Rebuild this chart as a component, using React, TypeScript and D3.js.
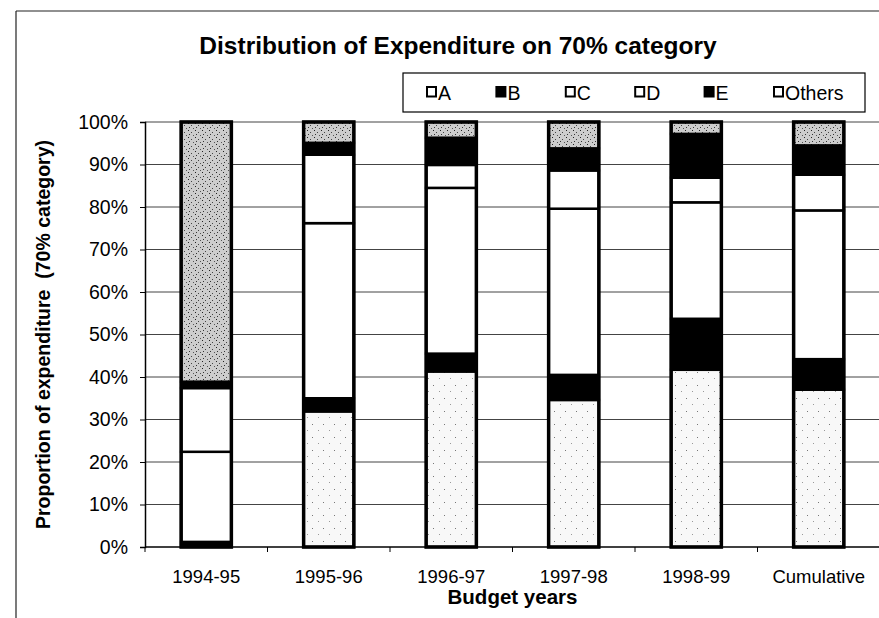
import React, { useEffect, useRef } from 'react'
import * as d3 from 'd3'

// values in % of the 70% category
const years = ['1994-95', '1995-96', '1996-97', '1997-98', '1998-99', 'Cumulative']
const seriesKeys = ['A', 'B', 'C', 'D', 'E', 'Others']
const valuesA = [0.6, 31.9, 41.3, 34.6, 41.7, 37.0]
const valuesB = [0.6, 3.1, 4.2, 5.9, 12.0, 7.2]
const valuesC = [21.2, 41.2, 39.0, 39.1, 27.4, 35.0]
const valuesD = [15.0, 16.1, 5.4, 9.0, 5.8, 8.4]
const valuesE = [1.5, 2.8, 6.4, 5.2, 10.3, 6.9]
const valuesOthers = [61.1, 4.9, 3.7, 6.2, 2.8, 5.5]
const yTicks = [0, 10, 20, 30, 40, 50, 60, 70, 80, 90, 100]

const FONT = '"Liberation Sans", Arial, sans-serif'

function App () {
  const ref = useRef<SVGSVGElement>(null)

  useEffect(() => {
    const width = 879
    const height = 618
    const margin = { top: 122, left: 145 }
    const plotW = 735
    const plotH = 425

    const svg = d3.select(ref.current)
    svg.selectAll('*').remove()
    svg.attr('width', width).attr('height', height)

    // stipple fills for the scanned textures
    const defs = svg.append('defs')
    const pa = defs.append('pattern')
      .attr('id', 'fillA').attr('patternUnits', 'userSpaceOnUse')
      .attr('width', 11).attr('height', 13)
    pa.append('rect').attr('width', 11).attr('height', 13).attr('fill', '#f8f8f8')
    pa.append('rect').attr('x', 2).attr('y', 3).attr('width', 1).attr('height', 1).attr('fill', '#777')
    pa.append('rect').attr('x', 8).attr('y', 9).attr('width', 1).attr('height', 1).attr('fill', '#999')
    const po = defs.append('pattern')
      .attr('id', 'fillOthers').attr('patternUnits', 'userSpaceOnUse')
      .attr('width', 7).attr('height', 7)
    po.append('rect').attr('width', 7).attr('height', 7).attr('fill', '#cdcdcd')
    po.append('rect').attr('x', 1).attr('y', 1).attr('width', 1).attr('height', 1).attr('fill', '#222')
    po.append('rect').attr('x', 4).attr('y', 3).attr('width', 1).attr('height', 1).attr('fill', '#444')
    po.append('rect').attr('x', 2).attr('y', 5).attr('width', 1).attr('height', 1).attr('fill', '#333')
    po.append('rect').attr('x', 6).attr('y', 6).attr('width', 1).attr('height', 1).attr('fill', '#555')

    const fills: Record<string, string> = {
      A: 'url(#fillA)',
      B: '#000',
      C: '#fff',
      D: '#fff',
      E: '#000',
      Others: 'url(#fillOthers)'
    }

    // outer frame of the scanned figure
    svg.append('line').attr('x1', 16).attr('y1', 11).attr('x2', 16).attr('y2', height)
      .attr('stroke', '#222').attr('stroke-width', 1.2)
    svg.append('line').attr('x1', 16).attr('y1', 11).attr('x2', width).attr('y2', 11)
      .attr('stroke', '#222').attr('stroke-width', 1.2)

    svg.append('text')
      .attr('x', 458).attr('y', 54)
      .attr('text-anchor', 'middle')
      .attr('font-family', FONT).attr('font-weight', 'bold').attr('font-size', 24.5)
      .text('Distribution of Expenditure on 70% category')

    const g = svg.append('g').attr('transform', `translate(${margin.left},${margin.top})`)

    const x = d3.scaleBand().domain(years).range([0, plotW]).paddingInner(0.59).paddingOuter(0.295)
    const y = d3.scaleLinear().domain([0, 100]).range([plotH, 0])

    // gridlines
    g.append('g').selectAll('line').data(yTicks.slice(1)).enter().append('line')
      .attr('x1', 0).attr('x2', plotW)
      .attr('y1', d => y(d)).attr('y2', d => y(d))
      .attr('stroke', '#444').attr('stroke-width', 1)

    const yAxis = g.append('g').call(d3.axisLeft(y).tickValues(yTicks).tickSize(5).tickFormat(d => d + '%'))
    yAxis.select('.domain').attr('stroke', '#000').attr('stroke-width', 1.5)
    yAxis.selectAll('.tick line').attr('stroke', '#000')
    yAxis.selectAll('.tick text')
      .attr('x', -17).attr('font-family', FONT).attr('font-size', 19.5).attr('fill', '#000')

    // x axis with ticks at band boundaries
    g.append('line').attr('x1', 0).attr('x2', plotW).attr('y1', plotH).attr('y2', plotH)
      .attr('stroke', '#000').attr('stroke-width', 1.5)
    g.append('g').selectAll('line').data(years).enter().append('line')
      .attr('x1', d => (x(d) as number) - x.step() * 0.295)
      .attr('x2', d => (x(d) as number) - x.step() * 0.295)
      .attr('y1', plotH).attr('y2', plotH + 5)
      .attr('stroke', '#000')
    g.append('g').selectAll('text').data(years).enter().append('text')
      .attr('x', d => (x(d) as number) + x.bandwidth() / 2)
      .attr('y', plotH + 36)
      .attr('text-anchor', 'middle')
      .attr('font-family', FONT).attr('font-size', 18.5)
      .text(d => d)

    const rows = years.map((yr, i) => ({
      year: yr,
      A: valuesA[i],
      B: valuesB[i],
      C: valuesC[i],
      D: valuesD[i],
      E: valuesE[i],
      Others: valuesOthers[i]
    }))
    const stacked = d3.stack<any>().keys(seriesKeys)(rows)

    g.append('g').selectAll('g').data(stacked).enter().append('g')
      .attr('fill', d => fills[d.key])
      .selectAll('rect').data(d => d).enter().append('rect')
      .attr('x', d => x(d.data.year) as number)
      .attr('width', x.bandwidth())
      .attr('y', d => y(d[1]))
      .attr('height', d => y(d[0]) - y(d[1]))
      .attr('stroke', '#000').attr('stroke-width', 2.5)

    // heavy outline round each bar
    g.append('g').selectAll('rect').data(years).enter().append('rect')
      .attr('x', d => x(d) as number)
      .attr('width', x.bandwidth())
      .attr('y', y(100)).attr('height', y(0) - y(100))
      .attr('fill', 'none').attr('stroke', '#000').attr('stroke-width', 3.5)

    svg.append('text')
      .attr('transform', `translate(50,${margin.top + plotH / 2}) rotate(-90)`)
      .attr('text-anchor', 'middle')
      .attr('font-family', FONT).attr('font-weight', 'bold').attr('font-size', 19.5)
      .attr('xml:space', 'preserve')
      .style('white-space', 'pre')
      .text('Proportion of expenditure  (70% category)')

    svg.append('text')
      .attr('x', margin.left + plotW / 2).attr('y', 604)
      .attr('text-anchor', 'middle')
      .attr('font-family', FONT).attr('font-weight', 'bold').attr('font-size', 20.5)
      .text('Budget years')

    // legend
    const leg = svg.append('g')
    leg.append('rect').attr('x', 403).attr('y', 73).attr('width', 462).attr('height', 39)
      .attr('fill', '#fff').attr('stroke', '#000').attr('stroke-width', 1.2)
    const legX = d3.scalePoint().domain(seriesKeys).range([426, 773])
    const item = leg.selectAll('g.item').data(seriesKeys).enter().append('g').attr('class', 'item')
      .attr('transform', d => `translate(${legX(d)},87)`)
    item.append('rect').attr('x', 1).attr('y', 0).attr('width', 9).attr('height', 9.5)
      .attr('fill', d => (d === 'B' || d === 'E') ? '#000' : '#fff')
      .attr('stroke', '#000').attr('stroke-width', 2)
    item.append('text').attr('x', 12).attr('y', 12.5)
      .attr('font-family', FONT).attr('font-size', 19.5)
      .text(d => d)
  }, [])

  return (
    <svg ref={ref} style={{ position: 'absolute', left: 0, top: 0, background: '#fff' }} />
  )
}

export default App
